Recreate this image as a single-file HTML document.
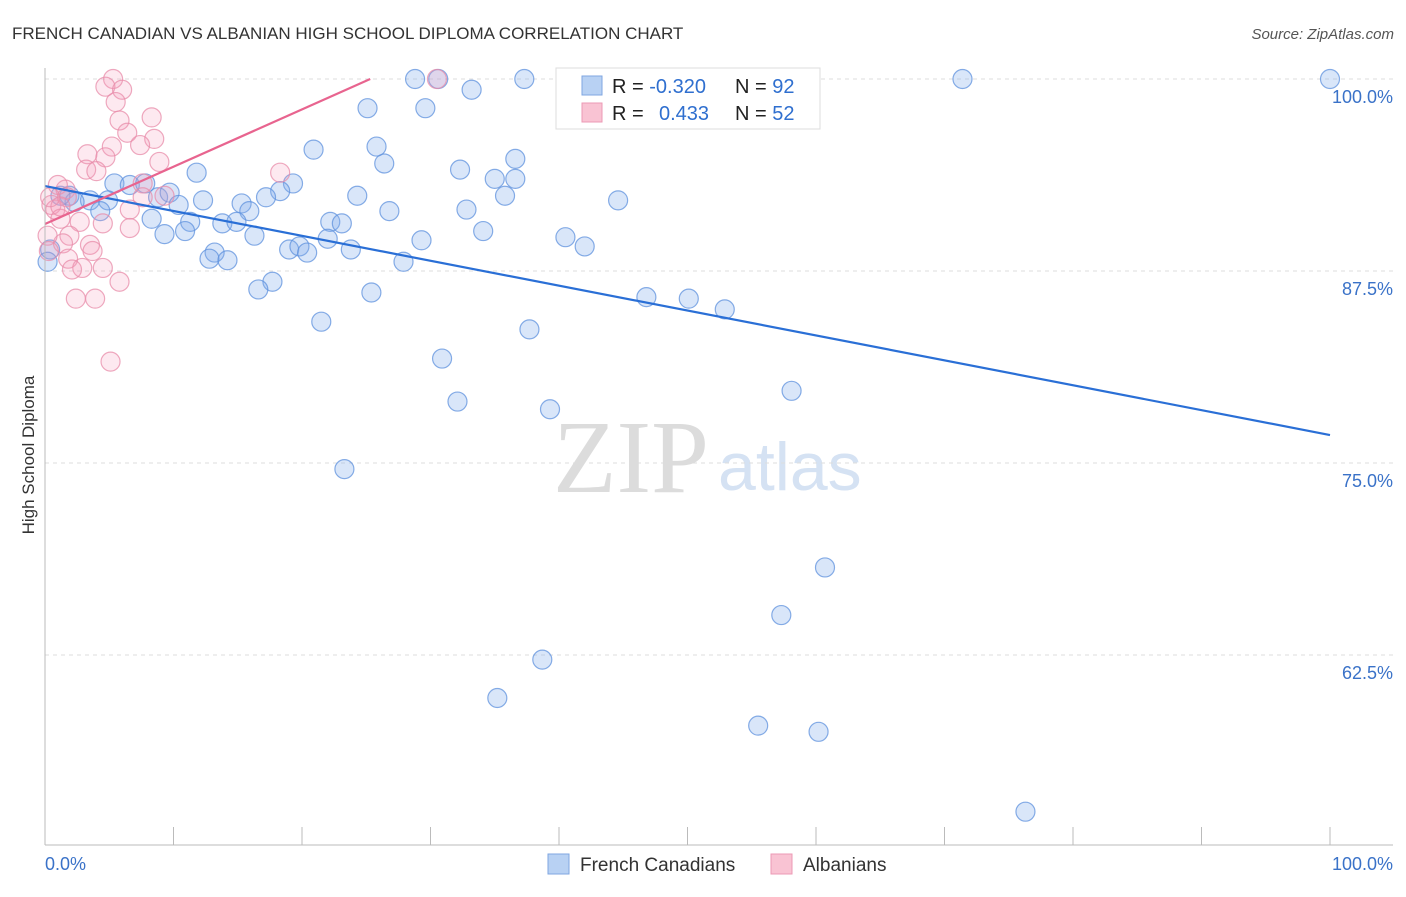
<!DOCTYPE html>
<html><head><meta charset="utf-8"><style>
body{margin:0;background:#fff;font-family:"Liberation Sans",sans-serif;}
</style></head><body>
<svg id="c" width="1406" height="892" font-family="Liberation Sans, sans-serif" xmlns="http://www.w3.org/2000/svg">
<text x="12" y="39" font-size="17" fill="#333">FRENCH CANADIAN VS ALBANIAN HIGH SCHOOL DIPLOMA CORRELATION CHART</text>
<text x="1394" y="39" font-size="15" fill="#555" text-anchor="end" font-style="italic">Source: ZipAtlas.com</text>
<text x="34" y="455" font-size="17" fill="#333" text-anchor="middle" transform="rotate(-90 34 455)">High School Diploma</text>
<text x="553" y="492" font-size="104" fill="#dcdcdc" style="font-family:'Liberation Serif',serif">ZIP</text>
<text x="718" y="490" font-size="68" fill="#d5e2f3">atlas</text>
<g id="grid"></g><g id="pts"></g><g id="lines"></g>
<line x1="45" y1="68" x2="45" y2="845" stroke="#bbb"/>
<line x1="45" y1="845" x2="1393" y2="845" stroke="#bbb"/>
<text x="45" y="870" font-size="18" fill="#3a72c8">0.0%</text>
<text x="1393" y="870" font-size="18" fill="#3a72c8" text-anchor="end">100.0%</text>
<g>
<rect x="556" y="68" width="264" height="61" fill="#fff" stroke="#ddd"/>
<rect x="582" y="76" width="20" height="19" fill="#b8d1f3" stroke="#7fa6e0"/>
<rect x="582" y="103" width="20" height="19" fill="#f9c3d3" stroke="#ec9ab5"/>
<text x="612" y="93" font-size="20" fill="#222">R = <tspan fill="#2f6fcf">-0.320</tspan><tspan x="735">N = </tspan><tspan fill="#2f6fcf">92</tspan></text>
<text x="612" y="120" font-size="20" fill="#222">R = <tspan x="659" fill="#2f6fcf">0.433</tspan><tspan x="735">N = </tspan><tspan fill="#2f6fcf">52</tspan></text>
</g>
<g><rect x="548" y="854" width="21" height="20" fill="#b8d1f3" stroke="#7fa6e0"/><text x="580" y="871" font-size="19" fill="#333">French Canadians</text></g>
<g><rect x="771" y="854" width="21" height="20" fill="#f9c3d3" stroke="#ec9ab5"/><text x="803" y="871" font-size="19" fill="#333">Albanians</text></g>
</svg>
<script>
const yTicks=[100,87.5,75,62.5];
const yTickLabels=["100.0%","87.5%","75.0%","62.5%"];
const xTicks=[0,10,20,30,40,50,60,70,80,90,100];
const blueX=[28.8,30.6,37.3,47.9,71.4,100,44.5,33.2,25.1,29.6,20.9,25.8,36.6,26.4,32.3,11.8,35,36.6,19.3,5.4,6.6,7.8,18.3,24.3,35.8,44.6,1.9,3.5,2.3,1.2,4.9,8.8,9.7,10.4,12.3,15.3,17.2,15.9,26.8,32.8,4.3,8.3,11.3,13.8,14.9,22.2,23.1,9.3,10.9,16.3,22,34.1,40.5,42,29.3,19,19.8,20.4,23.8,13.2,12.8,14.2,27.9,17.7,16.6,25.4,46.8,50.1,52.9,21.5,37.7,30.9,58.1,32.1,39.3,23.3,60.7,57.3,38.7,35.2,55.5,60.2,76.3,0.4,0.2];
const blueY=[100,100,100,100,100,100,100,99.3,98.1,98.1,95.4,95.6,94.8,94.5,94.1,93.9,93.5,93.5,93.2,93.2,93.1,93.2,92.7,92.4,92.4,92.1,92.4,92.1,92,92.4,92.1,92.3,92.6,91.8,92.1,91.9,92.3,91.4,91.4,91.5,91.4,90.9,90.7,90.6,90.7,90.7,90.6,89.9,90.1,89.8,89.6,90.1,89.7,89.1,89.5,88.9,89.1,88.7,88.9,88.7,88.3,88.2,88.1,86.8,86.3,86.1,85.8,85.7,85,84.2,83.7,81.8,79.7,79,78.5,74.6,68.2,65.1,62.2,59.7,57.9,57.5,52.3,88.9,88.1];
const pinkX=[5.3,4.7,6,5.5,8.3,5.8,6.4,8.5,7.4,5.2,3.3,4.7,8.9,3.2,4,18.3,7.6,1.6,9.3,1,1.7,0.5,0.8,1.2,2.7,4.5,6.6,6.6,1.9,1.4,3.5,3.7,1.8,2.9,2.1,4.5,5.8,2.4,3.9,5.1,30.5,0.4,1.2,7.6,0.2,0.3];
const pinkY=[100,99.5,99.3,98.5,97.5,97.3,96.5,96.1,95.7,95.6,95.1,94.9,94.6,94.1,94,93.9,93.2,92.8,92.4,93.1,92.3,91.8,91.5,90.9,90.7,90.6,91.5,90.3,89.8,89.3,89.2,88.8,88.3,87.7,87.6,87.7,86.8,85.7,85.7,81.6,100,92.3,91.7,92.3,89.8,88.8];
const blueLine=[93.03,76.82];
const pinkLine=[90.56,0.373];
const NS="http://www.w3.org/2000/svg";
const X=v=>45+v*12.85, Y=v=>79+(100-v)*15.36;
function mk(t,a,p){const e=document.createElementNS(NS,t);for(const k in a)e.setAttribute(k,a[k]);p.appendChild(e);return e;}
const grid=document.getElementById('grid');
yTicks.forEach((t,i)=>{
 const l=mk('line',{x1:45,x2:1393,y1:Y(t),y2:Y(t),stroke:'#ddd','stroke-dasharray':'4 4'},grid);
 
 
 const tx=mk('text',{x:1393,y:Y(t)+24,'font-size':18,fill:'#3a72c8','text-anchor':'end'},grid);
 tx.textContent=yTickLabels[i];
 
 
});
xTicks.forEach(t=>{
 const l=mk('line',{x1:X(t),x2:X(t),y1:827,y2:845,stroke:'#bbb'},grid);
 
 
});
const pts=document.getElementById('pts');
blueX.forEach((x,i)=>{
 const c=mk('circle',{cx:X(x),cy:Y(blueY[i]),r:9.5,fill:'rgba(130,172,235,0.3)',stroke:'rgba(95,145,222,0.75)','stroke-width':1.2},pts);
 
 
});
pinkX.forEach((x,i)=>{
 const c=mk('circle',{cx:X(x),cy:Y(pinkY[i]),r:9.5,fill:'rgba(244,155,185,0.22)',stroke:'rgba(232,140,170,0.75)','stroke-width':1.2},pts);
 
 
});
const lines=document.getElementById('lines');
const bl=mk('line',{x1:X(0),y1:Y(blueLine[0]),x2:X(100),y2:Y(blueLine[1]),stroke:'#2a6fd6','stroke-width':2.2},lines);


const xe=(100-pinkLine[0])/pinkLine[1];
const pl=mk('line',{x1:X(0),y1:Y(pinkLine[0]),x2:X(xe),y2:Y(100),stroke:'#e8648f','stroke-width':2.2},lines);


</script>
</body></html>
